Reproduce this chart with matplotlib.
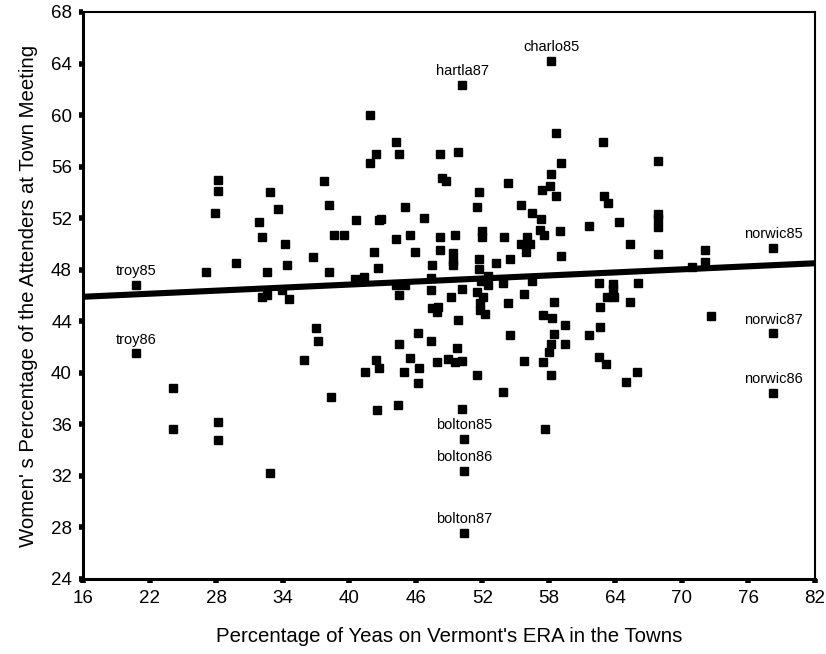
import numpy as np
import matplotlib
matplotlib.use('Agg')
import matplotlib.pyplot as plt

plt.rcParams['font.family'] = ['Liberation Sans', 'DejaVu Sans']

# towns without a name tag: % yes on ERA vs women's % at town meeting
era_yes = [
    24.1, 24.1, 28.2, 28.2, 27.9, 27.1, 29.8, 28.2, 28.2, 32.9,
    32.9, 33.55, 31.9, 32.1, 34.2, 34.4, 32.55, 32.1, 32.55, 33.9,
    34.6, 37.0, 37.2, 35.9, 38.4, 37.7, 38.2, 38.6, 39.55, 36.7,
    38.2, 40.6, 40.55, 41.35, 42.2, 42.6, 42.7, 41.9, 42.4, 41.9,
    42.4, 42.7, 41.4, 42.5, 44.2, 44.5, 48.2, 49.85, 48.4, 48.75,
    54.3, 51.7, 51.5, 55.5, 56.5, 57.4, 45.0, 46.7, 42.9, 45.5,
    44.2, 48.2, 49.5, 52.0, 52.0, 54.0, 56.0, 55.5, 56.3, 55.9,
    57.3, 57.2, 57.6, 45.9, 48.2, 49.35, 49.35, 49.35, 47.5, 51.7,
    51.7, 53.2, 54.5, 47.4, 44.2, 45.0, 52.5, 52.5, 51.9, 53.85,
    56.5, 44.5, 47.4, 49.2, 50.2, 51.5, 52.05, 51.8, 55.8, 54.3,
    47.5, 48.0, 47.9, 51.8, 52.2, 49.85, 57.5, 59.1, 67.8, 58.2,
    58.1, 58.65, 62.95, 63.3, 59.0, 61.65, 64.3, 67.8, 67.8, 67.8,
    65.3, 59.1, 67.8, 72.1, 72.1, 70.9, 62.5, 63.8, 63.8, 66.0,
    63.2, 63.9, 58.5, 62.65, 65.3, 72.65, 58.3, 59.5, 62.65, 46.2,
    44.5, 47.4, 49.7, 54.5, 45.5, 44.9, 46.3, 47.9, 48.9, 49.5,
    50.2, 46.2, 51.5, 53.85, 55.8, 44.4, 50.2, 58.5, 59.5, 58.2,
    58.0, 57.5, 58.2, 61.65, 62.5, 63.15, 65.95, 65.0, 57.65, 58.65,
    62.85,
]
women_pct = [
    38.8, 35.6, 54.95, 54.1, 52.4, 47.8, 48.55, 36.2, 34.8, 32.2,
    54.0, 52.7, 51.7, 50.55, 50.0, 48.4, 47.85, 45.85, 46.0, 46.4,
    45.7, 43.45, 42.5, 41.0, 38.1, 54.85, 53.0, 50.7, 50.7, 49.0,
    47.85, 51.85, 47.3, 47.4, 49.4, 48.1, 51.85, 56.3, 57.0, 60.0,
    41.0, 40.4, 40.1, 37.1, 57.9, 57.0, 57.0, 57.1, 55.1, 54.85,
    54.7, 54.0, 52.85, 53.0, 52.4, 54.15, 52.85, 52.0, 51.9, 50.7,
    50.4, 50.5, 50.7, 51.0, 50.5, 50.55, 50.5, 50.0, 50.0, 49.4,
    51.9, 51.1, 50.7, 49.4, 49.55, 49.3, 48.65, 48.4, 48.4, 48.85,
    48.05, 48.5, 48.8, 47.35, 46.8, 46.8, 47.5, 46.8, 47.1, 46.95,
    47.1, 46.0, 46.4, 45.9, 46.5, 46.25, 45.85, 45.45, 46.1, 45.4,
    45.0, 45.1, 44.7, 44.85, 44.55, 44.1, 44.45, 56.3, 56.4, 55.45,
    54.5, 53.75, 53.75, 53.2, 51.0, 51.4, 51.7, 52.3, 51.9, 51.3,
    50.0, 49.1, 49.25, 49.55, 48.6, 48.2, 47.0, 46.9, 46.5, 47.0,
    45.85, 45.85, 45.5, 45.1, 45.5, 44.4, 44.25, 43.7, 43.55, 43.1,
    42.25, 42.5, 41.95, 42.95, 41.15, 40.1, 40.35, 40.8, 41.1, 40.8,
    40.95, 39.2, 39.8, 38.5, 40.95, 37.5, 37.2, 43.0, 42.25, 42.2,
    41.65, 40.8, 39.8, 42.95, 41.25, 40.65, 40.1, 39.25, 35.65, 58.6,
    57.9,
]

# outlying towns that carry a name tag
town_names = ['troy85', 'troy86', 'hartla87', 'charlo85', 'bolton85',
              'bolton86', 'bolton87', 'norwic85', 'norwic87', 'norwic86']
town_era = [20.8, 20.8, 50.2, 58.2, 50.35, 50.35, 50.35, 78.25, 78.25, 78.25]
town_women = [46.8, 41.5, 62.3, 64.2, 34.9, 32.4, 27.6, 49.65, 43.05, 38.4]

# fitted line end points
fit_x = [16, 82]
fit_y = [45.9, 48.5]

fig = plt.figure(figsize=(8.26, 6.54), dpi=100)
ax = fig.add_axes([0.1005, 0.1147, 0.8862, 0.867])

ax.plot(era_yes, women_pct, 's', color='black', ms=5.4, zorder=3)
ax.plot(town_era, town_women, 's', color='black', ms=5.4, zorder=3)
for name, xv, yv in zip(town_names, town_era, town_women):
    ax.annotate(name, (xv, yv), xytext=(0, 5), textcoords='offset points',
                ha='center', va='bottom', fontsize=10.5)

ax.plot(fit_x, fit_y, color='black', lw=4.4, solid_capstyle='butt', zorder=2)

ax.set_xlim(16, 82)
ax.set_ylim(24, 68)
ax.set_xticks(np.arange(16, 83, 6))
ax.set_yticks(np.arange(24, 69, 4))
ax.tick_params(direction='out', length=3, width=4, labelsize=13.5, pad=5)

for side in ['left', 'bottom']:
    ax.spines[side].set_linewidth(2.2)
for side in ['top', 'right']:
    ax.spines[side].set_linewidth(1.5)

ax.set_xlabel("Percentage of Yeas on Vermont's ERA in the Towns", fontsize=14.7, labelpad=14)
ax.set_ylabel("Women' s Percentage of the Attenders at Town Meeting", fontsize=14.7, labelpad=9)

fig.savefig('out.png', dpi=100)
